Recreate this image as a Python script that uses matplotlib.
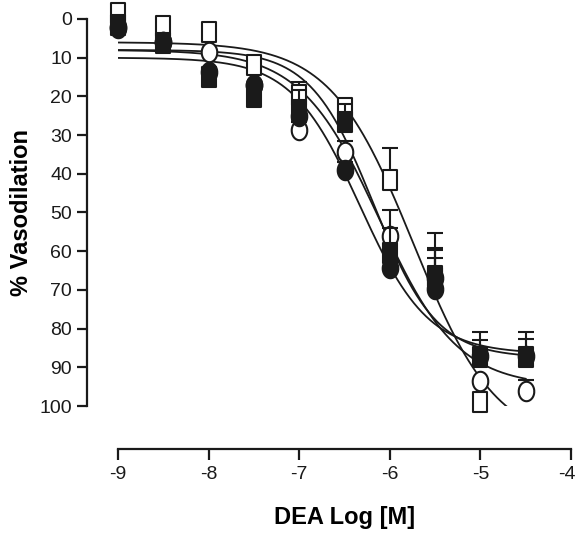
import numpy as np
import matplotlib.pyplot as plt
import matplotlib.transforms as mtransforms
from matplotlib.path import Path

plt.rcParams['font.family'] = ['Liberation Sans', 'DejaVu Sans']
plt.rcParams['axes.unicode_minus'] = False

log_dose = [-9, -8.5, -8, -7.5, -7, -6.5, -6, -5.5, -5, -4.5]

# % vasodilation (mean) and upward error (SEM) per group
open_sq = [-1.5, 1.8, 3.4, 11.9, 19.6, 23.0, 41.6, 66.4, 99.0]
open_sq_err = [0, 0, 0, 0, 3.3, 1.6, 8.3, 11.0, 0]
open_ci = [2.0, 6.0, 8.5, 17.0, 28.7, 34.4, 56.0, 67.0, 93.5, 96.0]
open_ci_err = [0, 0, 0, 0, 2.0, 3.0, 6.6, 7.8, 0, 2.7]
fill_ci = [2.3, 6.0, 13.7, 17.0, 25.0, 39.0, 64.3, 69.8, 87.0, 87.0]
fill_ci_err = [0, 0, 0, 0, 3.0, 2.0, 5.0, 10.0, 6.0, 6.0]
fill_sq = [1.5, 6.2, 15.0, 20.2, 23.5, 26.6, 60.5, 67.0, 87.3, 87.3]
fill_sq_err = [0, 0, 0, 0, 5.2, 4.6, 6.5, 5.2, 4.3, 4.6]

# sigmoidal fit parameters: bottom, top, logEC50, hill slope
fit_open_sq = [6.0, 110.0, -5.74, 0.95]
fit_open_ci = [8.0, 95.0, -6.12, 1.0]
fit_fill_ci = [10.0, 86.5, -6.33, 1.15]
fit_fill_sq = [8.0, 87.5, -6.18, 1.25]


def sigmoid(x, p):
    bottom, top, ec50, hill = p
    return bottom + (top - bottom) / (1 + 10 ** ((ec50 - x) * hill))


# slightly tall markers like the original figure
sq_marker = Path([(-0.72, -1), (0.72, -1), (0.72, 1), (-0.72, 1), (-0.72, -1)],
                 [1, 2, 2, 2, 79])
t = np.linspace(0, 2 * np.pi, 60)
ci_marker = Path(np.column_stack([0.8 * np.cos(t), np.sin(t)]))

ink = '#1a1a1a'
fig = plt.figure(figsize=(5.79, 5.36), dpi=100)
ax = fig.add_axes([0.2038, 0.2425, 0.7824, 0.7221])

xs = np.linspace(-9, -4.5, 300)
series = [
    (open_sq, open_sq_err, fit_open_sq, sq_marker, 'white'),
    (open_ci, open_ci_err, fit_open_ci, ci_marker, 'white'),
    (fill_ci, fill_ci_err, fit_fill_ci, ci_marker, ink),
    (fill_sq, fill_sq_err, fit_fill_sq, sq_marker, ink),
]
for i, (vals, err, fit, mk, face) in enumerate(series):
    x = log_dose[:len(vals)]
    ax.plot(xs, sigmoid(xs, fit), color=ink, lw=1.3, zorder=2)
    ax.errorbar(x, vals, yerr=[err, [0] * len(err)], fmt='none', ecolor=ink,
                elinewidth=1.5, capsize=6, capthick=1.5, zorder=3 + i, clip_on=False)
    ax.plot(x, vals, linestyle='none', marker=mk, markersize=14,
            markerfacecolor=face, markeredgecolor=ink, markeredgewidth=1.5,
            zorder=3.5 + i, clip_on=False)

ax.set_xlim(-9, -4)
ax.set_ylim(100, 0)
ax.set_xticks([-9, -8, -7, -6, -5, -4])
ax.set_yticks(range(0, 101, 10))

for s in ['top', 'right']:
    ax.spines[s].set_visible(False)
ax.spines['left'].set_position(('outward', 22))
ax.spines['bottom'].set_position(('outward', 31))
for s in ['left', 'bottom']:
    ax.spines[s].set_linewidth(1.6)
    ax.spines[s].set_color(ink)
ax.tick_params(axis='y', length=7, width=1.6, colors=ink, labelsize=14, pad=4)
ax.tick_params(axis='x', length=8, width=1.6, colors=ink, labelsize=14, pad=4)

# keep the last x tick label inside the figure
last = ax.get_xticklabels()[-1]
last.set_transform(last.get_transform() +
                   mtransforms.ScaledTranslation(-3 / 72, 0, fig.dpi_scale_trans))

ax.set_xlabel('DEA Log [M]', fontsize=17, fontweight='bold', labelpad=17)
ax.set_ylabel('% Vasodilation', fontsize=17, fontweight='bold', labelpad=5)

fig.savefig('out.png', dpi=100)
